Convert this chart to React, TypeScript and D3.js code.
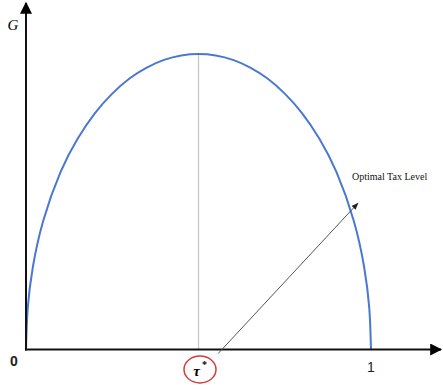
import React from "react";
import * as d3 from "d3";

const taus = [0, 0.005, 0.02, 0.05, 0.1, 0.15, 0.2, 0.25, 0.3, 0.35, 0.4, 0.45, 0.5, 0.55, 0.6, 0.65, 0.7, 0.75, 0.8, 0.85, 0.9, 0.95, 0.98, 0.995, 1];
const gValues = [0, 0.14, 0.28, 0.436, 0.6, 0.714, 0.8, 0.866, 0.917, 0.954, 0.98, 0.995, 1, 0.995, 0.98, 0.954, 0.917, 0.866, 0.8, 0.714, 0.6, 0.436, 0.28, 0.14, 0];
const tauStar = 0.5;
const tickLabels = ["0", "1"];
const arrowFrom = [0.557, -0.0136];
const arrowTo = [0.962, 0.495];
const annotation = "Optimal Tax Level";

export default function App() {
  const W = 443, H = 390;
  const x = d3.scaleLinear().domain([0, 1]).range([26, 371]);
  const y = d3.scaleLinear().domain([0, 1]).range([349.5, 54]);
  const pts: [number, number][] = taus.map((t, i) => [t, gValues[i]]);
  const line = d3.line<[number, number]>().x(d => x(d[0])).y(d => y(d[1])).curve(d3.curveNatural);
  const peakIdx = gValues.indexOf(d3.max(gValues) as number);
  const x0 = x(0), y0 = y(0);
  return (
    <svg width={W} height={H} style={{ position: "absolute", left: 0, top: 0, background: "#fff" }}>
      <defs>
        <marker id="ah" viewBox="0 0 10 10" refX="9" refY="5" markerWidth="6" markerHeight="6" orient="auto">
          <path d="M0,0 L10,5 L0,10 z" fill="#000" />
        </marker>
        <marker id="ah2" viewBox="0 0 10 10" refX="9" refY="5" markerWidth="7" markerHeight="7" orient="auto">
          <path d="M0,1 L10,5 L0,9 z" fill="#222" />
        </marker>
      </defs>
      <line x1={x(tauStar)} x2={x(tauStar)} y1={y(gValues[peakIdx])} y2={y0} stroke="#c4c4c4" strokeWidth={1.2} />
      <path d={line(pts) || ""} fill="none" stroke="#4a78d0" strokeWidth={2} />
      <line x1={x0} x2={x0} y1={y0 + 1} y2={3} stroke="#111" strokeWidth={2} markerEnd="url(#ah)" />
      <line x1={x0 - 1} x2={441} y1={y0} y2={y0} stroke="#111" strokeWidth={2} markerEnd="url(#ah)" />
      <line x1={x(arrowFrom[0])} y1={y(arrowFrom[1])} x2={x(arrowTo[0])} y2={y(arrowTo[1])} stroke="#555" strokeWidth={1} markerEnd="url(#ah2)" />
      <text x={13} y={30} fontFamily="Liberation Serif, serif" fontStyle="italic" fontSize={15} textAnchor="middle">G</text>
      <text x={x0 - 12} y={y0 + 16} fontFamily="Liberation Sans, sans-serif" fontSize={14} fontWeight="bold" fill="#222" textAnchor="middle">{tickLabels[0]}</text>
      <text x={x(1)} y={y0 + 22} fontFamily="Liberation Sans, sans-serif" fontSize={14} fill="#222" textAnchor="middle">{tickLabels[1]}</text>
      <ellipse cx={x(tauStar) + 1.5} cy={y0 + 20} rx={16} ry={13.5} fill="none" stroke="#d33a3a" strokeWidth={1.5} />
      <text x={x(tauStar) - 2} y={y0 + 26} fontFamily="Liberation Serif, serif" fontStyle="italic" fontWeight="bold" fontSize={15} textAnchor="middle">τ</text>
      <text x={x(tauStar) + 6} y={y0 + 18} fontFamily="Liberation Serif, serif" fontWeight="bold" fontSize={10} textAnchor="middle">*</text>
      <text x={352} y={180} fontFamily="Liberation Serif, serif" fontSize={10} fill="#111">{annotation}</text>
    </svg>
  );
}
